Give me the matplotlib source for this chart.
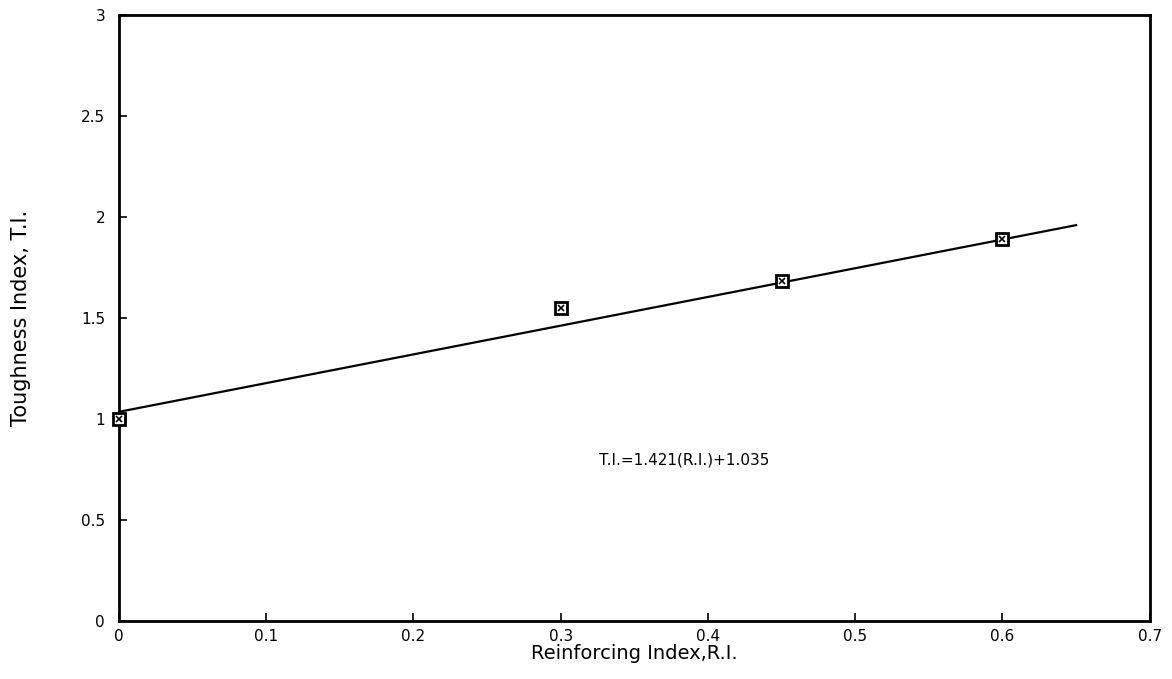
import matplotlib
matplotlib.use("Agg")
import matplotlib.pyplot as plt
import numpy as np

ri = [0.0, 0.3, 0.45, 0.6]
ti = [1.0, 1.55, 1.68, 1.89]
slope = 1.421
intercept = 1.035
fit_x = [0.0, 0.65]
xticks = [0, 0.1, 0.2, 0.3, 0.4, 0.5, 0.6, 0.7]
xticklabels = ["0", "0.1", "0.2", "0.3", "0.4", "0.5", "0.6", "0.7"]
yticks = [0, 0.5, 1, 1.5, 2, 2.5, 3]
yticklabels = ["0", "0.5", "1", "1.5", "2", "2.5", "3"]

plt.rcParams['font.family'] = ['DejaVu Sans']
fig = plt.figure(figsize=(11.72, 6.79), dpi=100)
ax = fig.add_axes([0.1015, 0.0854, 0.8795, 0.893])

fx = np.array(fit_x)
ax.plot(fx, slope * fx + intercept, color='black', lw=1.6, zorder=2)
ax.plot(ri, ti, linestyle='none', marker='s', markersize=8, markerfacecolor='white',
        markeredgecolor='black', markeredgewidth=2, zorder=3, clip_on=False)
ax.plot(ri, ti, linestyle='none', marker='x', markersize=5, color='black',
        markeredgewidth=1.2, zorder=4, clip_on=False)

ax.text(0.384, 0.795, "T.I.=1.421(R.I.)+1.035", ha='center', va='center', fontsize=11)

ax.set_xlim(0, 0.7)
ax.set_ylim(0, 3)
ax.set_xticks(xticks)
ax.set_xticklabels(xticklabels, fontsize=11)
ax.set_yticks(yticks)
ax.set_yticklabels(yticklabels, fontsize=11)
ax.tick_params(axis='x', direction='in', length=6, width=1.2, pad=6)
ax.tick_params(axis='y', direction='in', length=6, width=1.2, pad=10)
for s in ax.spines.values():
    s.set_linewidth(2)
ax.set_xlabel("Reinforcing Index,R.I.", fontsize=14, labelpad=0)
ax.set_ylabel("Toughness Index, T.I.", fontsize=15, labelpad=36)

fig.savefig("out.png", dpi=100)
